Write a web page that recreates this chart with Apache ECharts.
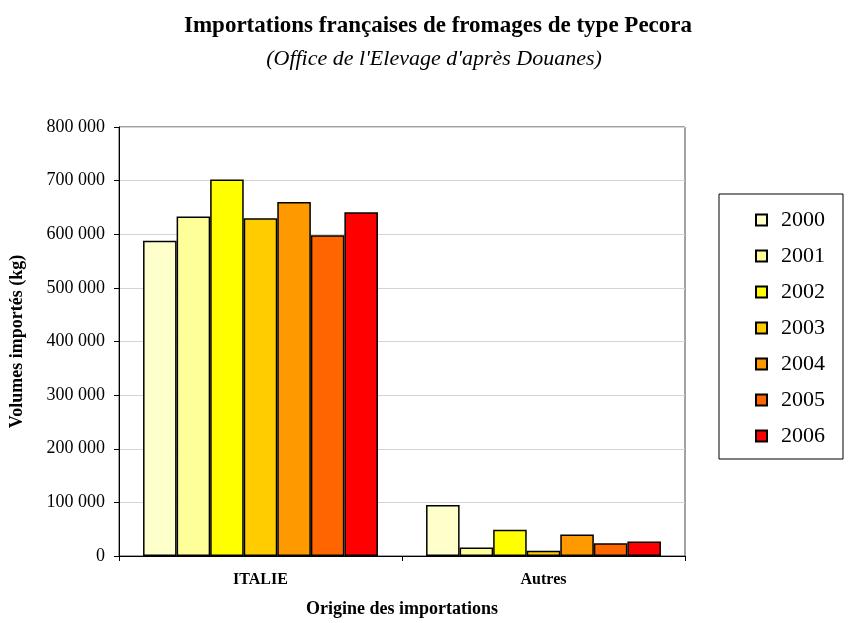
<!DOCTYPE html>
<html>
<head>
<meta charset="utf-8">
<script src="https://cdn.jsdelivr.net/npm/echarts@6/dist/echarts.min.js"></script>
<style>
  html, body { margin: 0; padding: 0; background: #fff; }
  #chart { width: 850px; height: 623px; }
</style>
</head>
<body>
<div id="chart"></div>
<script>
// 类别 / 年份 / 数据
const categories = ['ITALIE', 'Autres']
const years = ['2000', '2001', '2002', '2003', '2004', '2005', '2006']
const colors = ['#FFFFCC', '#FFFF99', '#FFFF00', '#FFCC00', '#FF9900', '#FF6600', '#FF0000']
// 每年的数值: [ITALIE, Autres]
const v2000 = [588000, 95000]
const v2001 = [633000, 16000]
const v2002 = [702000, 49000]
const v2003 = [630000, 10000]
const v2004 = [660000, 40000]
const v2005 = [598000, 24000]
const v2006 = [641000, 27000]
const values = [v2000, v2001, v2002, v2003, v2004, v2005, v2006]

const serif = 'Liberation Serif, Times New Roman, serif'

const chart = echarts.init(document.getElementById('chart'))

const series = years.map((y, i) => ({
  name: y,
  type: 'bar',
  data: values[i],
  barGap: '0%',
  barCategoryGap: '17%',
  itemStyle: { color: colors[i], borderColor: '#000', borderWidth: 1.5 }
}))

chart.setOption({
  animation: false,
  title: [
    {
      text: 'Importations françaises de fromages de type Pecora',
      left: 433, top: 10, textAlign: 'center',
      textStyle: { fontFamily: serif, fontSize: 23, fontWeight: 'bold', color: '#000' }
    },
    {
      text: "(Office de l'Elevage d'après Douanes)",
      left: 429, top: 43, textAlign: 'center',
      textStyle: { fontFamily: serif, fontSize: 22, fontStyle: 'italic', fontWeight: 'normal', color: '#000' }
    }
  ],
  legend: {
    orient: 'vertical',
    left: 719, top: 194,
    padding: [15, 18, 12, 36],
    borderColor: '#000',
    borderWidth: 1,
    itemWidth: 11,
    itemHeight: 11,
    itemGap: 14,
    icon: 'rect',
    data: years,
    textStyle: { fontFamily: serif, fontSize: 22, color: '#000', padding: [0, 0, 0, 9] }
  },
  grid: {
    left: 119, right: 165, top: 127, bottom: 64,
    show: true, borderColor: '#444', borderWidth: 1
  },
  xAxis: {
    type: 'category',
    data: categories,
    name: 'Origine des importations',
    nameLocation: 'middle',
    nameGap: 44,
    nameTextStyle: { fontFamily: serif, fontSize: 18, fontWeight: 'bold', color: '#000' },
    axisLine: { lineStyle: { color: '#000' } },
    axisTick: { show: true, length: 5, lineStyle: { color: '#000' } },
    axisLabel: { fontFamily: serif, fontSize: 16, fontWeight: 'bold', color: '#000', margin: 16 }
  },
  yAxis: {
    type: 'value',
    min: 0, max: 800000, interval: 100000,
    name: 'Volumes importés (kg)',
    nameLocation: 'middle',
    nameGap: 93,
    nameTextStyle: { fontFamily: serif, fontSize: 18, fontWeight: 'bold', color: '#000' },
    axisLine: { show: true, lineStyle: { color: '#000' } },
    axisTick: { show: true, length: 5, lineStyle: { color: '#000' } },
    splitLine: { lineStyle: { color: '#d4d4d4' } },
    axisLabel: {
      fontFamily: serif, fontSize: 18, color: '#000', margin: 14,
      formatter: v => String(v).replace(/\B(?=(\d{3})+(?!\d))/g, ' ')
    }
  },
  series: series
})
</script>
</body>
</html>
